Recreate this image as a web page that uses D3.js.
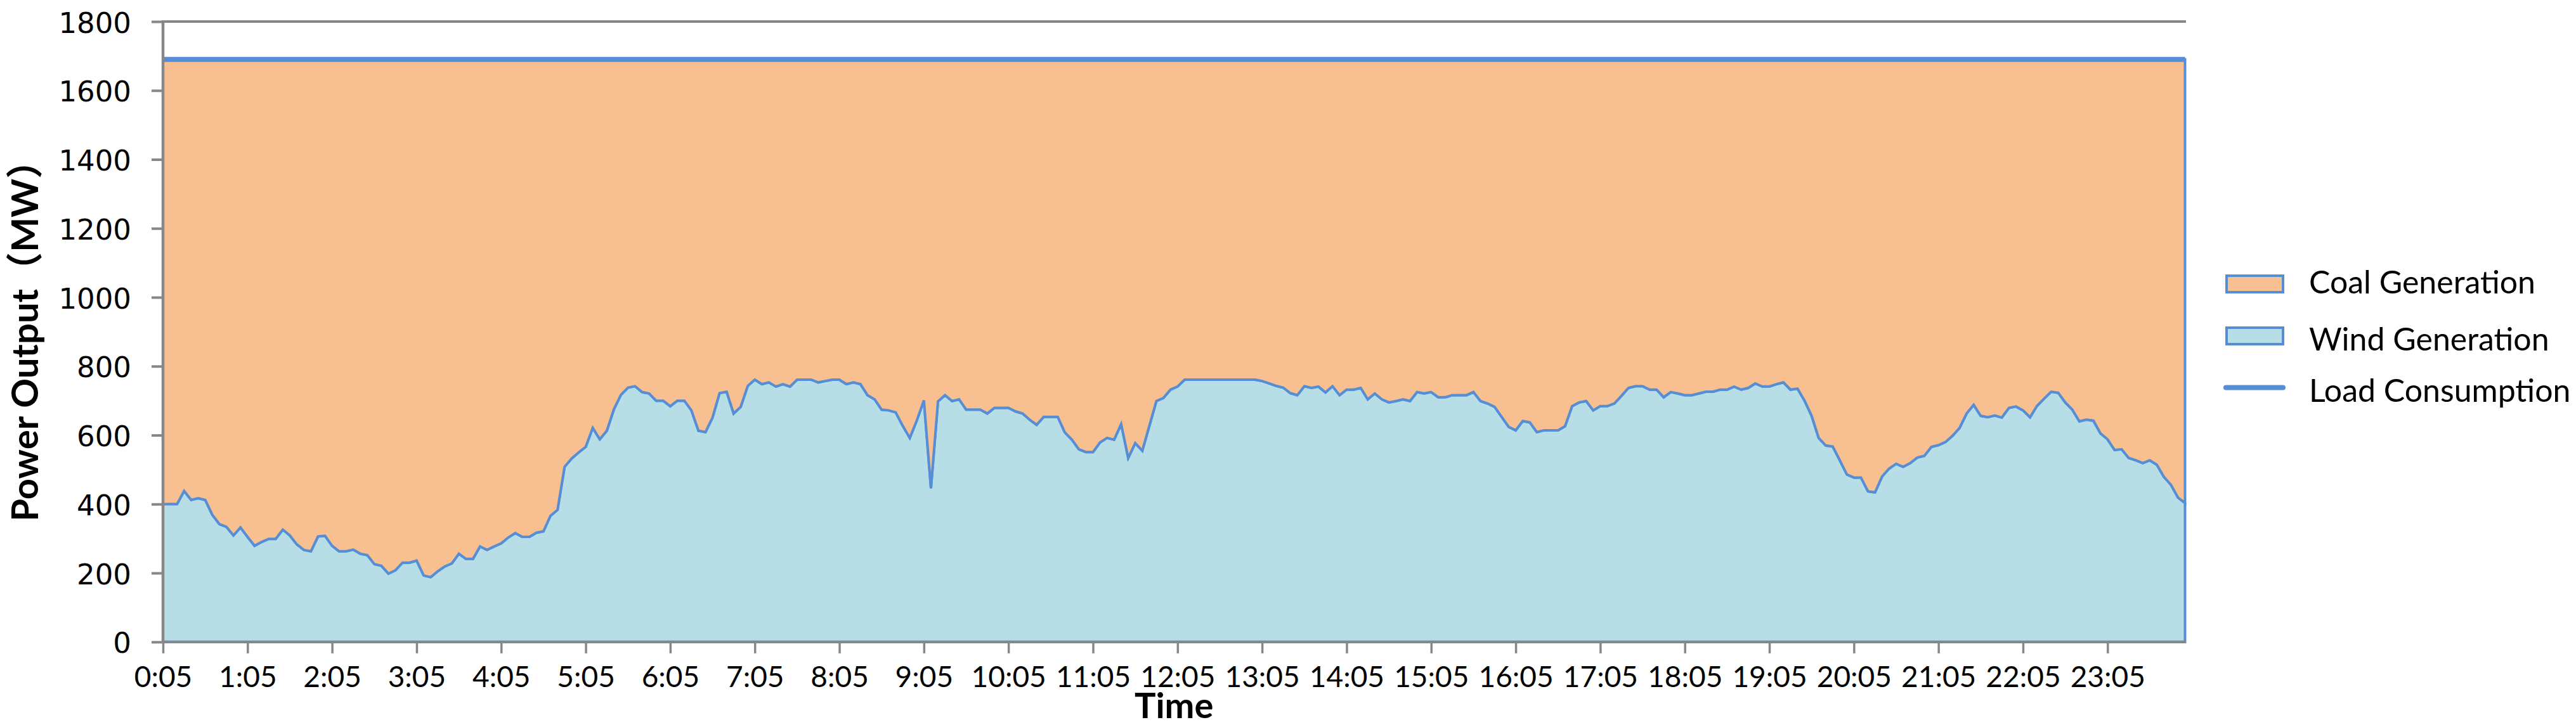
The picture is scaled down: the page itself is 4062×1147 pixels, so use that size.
<!DOCTYPE html>
<html>
<head>
<meta charset="utf-8">
<script src="https://cdn.jsdelivr.net/npm/d3@7/dist/d3.min.js"></script>
<style>
  html, body { margin: 0; padding: 0; background: #ffffff; }
  svg { display: block; }
</style>
</head>
<body>
<svg id="chart" width="4062" height="1147"></svg>
<script>
// ---------------- DATA ----------------
// Wind generation (MW), one value every 5 minutes from 0:05 to 24:00 (12 per row = 1 hour)
const windMW = [
  400,400,400,438,412,417,412,369,342,334,309,332,
  305,279,290,299,299,326,309,283,267,263,306,308,
  279,263,263,268,256,252,226,221,198,208,230,230,
  236,193,188,205,219,228,256,241,241,277,267,277,
  286,303,316,305,305,317,321,366,383,508,532,550,
  566,621,588,613,675,717,738,742,725,721,700,700,
  684,700,700,672,613,609,651,722,726,663,682,743,
  761,748,753,741,748,741,761,761,761,753,757,761,
  761,748,753,748,716,704,674,672,666,627,592,643,
  701,446,698,716,699,704,674,674,674,663,679,679,
  679,669,663,645,630,653,653,653,608,587,559,551,
  551,579,592,587,632,534,577,555,627,699,708,732,
  741,761,761,761,761,761,761,761,761,761,761,761,
  757,750,743,738,722,716,742,737,741,724,742,716,
  732,732,737,704,721,704,695,699,704,699,725,721,
  725,710,710,716,716,716,725,699,692,682,653,624,
  614,641,637,609,614,614,614,626,684,695,699,672,
  684,684,692,714,737,742,742,732,732,710,725,721,
  716,716,721,726,726,732,732,741,732,737,750,741,
  741,748,753,732,735,700,656,592,570,567,527,486,
  477,477,437,434,480,503,517,508,519,535,540,566,
  571,580,598,621,663,688,656,652,657,651,679,683,
  672,652,685,706,726,723,695,674,640,645,642,605,
  588,557,559,534,527,519,527,514,479,456,419,403
];
// Load consumption (MW), flat over the day
const loadMW = 1690;

// Category labels: 5-minute steps
const timeLabels = windMW.map((_, i) => {
  const mins = (i + 1) * 5;
  return Math.floor(mins / 60) + ":" + String(mins % 60).padStart(2, "0");
});
// Labelled x ticks
const xTickLabels = ["0:05","1:05","2:05","3:05","4:05","5:05","6:05","7:05","8:05","9:05","10:05","11:05",
                     "12:05","13:05","14:05","15:05","16:05","17:05","18:05","19:05","20:05","21:05","22:05","23:05"];
const yTicks = [0, 200, 400, 600, 800, 1000, 1200, 1400, 1600, 1800];
const seriesNames = ["Coal Generation", "Wind Generation", "Load Consumption"];
const axisTitles = { x: "Time", y: "Power Output（MW）" };

// ---------------- STYLE ----------------
const C = {
  coal: "#F8C091",
  wind: "#B7DDE7",
  line: "#558ED5",
  axis: "#878787",
  text: "#000000"
};

const rows = timeLabels.map((t, i) => ({
  time: t,
  wind: windMW[i],
  coal: loadMW - windMW[i],
  load: loadMW
}));

const svg = d3.select("#chart");
svg.append("rect").attr("width", 4062).attr("height", 1147).attr("fill", "#fff");

const plot = { left: 257, right: 3445.5, top: 34, bottom: 1012.8 };

const x = d3.scalePoint().domain(timeLabels).range([plot.left, plot.right]).padding(0);
const y = d3.scaleLinear().domain([0, 1800]).range([plot.bottom, plot.top]);

// gridlines
svg.append("g").selectAll("line").data(yTicks).join("line")
  .attr("x1", plot.left).attr("x2", plot.right + 1.5)
  .attr("y1", d => y(d)).attr("y2", d => y(d))
  .attr("stroke", C.axis).attr("stroke-width", 4);

// stacked areas
const stack = d3.stack().keys(["wind", "coal"]);
const stacked = stack(rows);
const area = d3.area()
  .x(d => x(d.data.time))
  .y0(d => y(d[0]))
  .y1(d => y(d[1]));

const fills = { wind: C.wind, coal: C.coal };
svg.append("g").selectAll("path").data(stacked).join("path")
  .attr("d", area)
  .attr("fill", d => fills[d.key])
  .attr("stroke", C.line)
  .attr("stroke-width", 4)
  .attr("stroke-linejoin", "miter");

// load line
const line = d3.line().x(d => x(d.time)).y(d => y(d.load));
svg.append("path").datum(rows)
  .attr("d", line)
  .attr("fill", "none")
  .attr("stroke", C.line)
  .attr("stroke-width", 8);

// y axis
const yAxis = svg.append("g")
  .attr("transform", `translate(${plot.left},0)`)
  .call(d3.axisLeft(y).tickValues(yTicks).tickSize(18).tickPadding(32).tickFormat(d3.format("d")));
yAxis.select(".domain").remove();
yAxis.selectAll(".tick line").attr("stroke", C.axis).attr("stroke-width", 4);
yAxis.selectAll(".tick text")
  .attr("font-family", "'DejaVu Sans', sans-serif")
  .attr("font-size", 45)
  .attr("fill", C.text)
  .attr("dy", "0.38em");
yAxis.append("line")
  .attr("x1", 0).attr("x2", 0)
  .attr("y1", plot.top - 2).attr("y2", plot.bottom + 2)
  .attr("stroke", C.axis).attr("stroke-width", 4.5);

// x axis
const xAxis = svg.append("g")
  .attr("transform", `translate(0,${plot.bottom})`)
  .call(d3.axisBottom(x).tickValues(xTickLabels).tickSize(18).tickPadding(21));
xAxis.select(".domain").remove();
xAxis.selectAll(".tick line").attr("stroke", C.axis).attr("stroke-width", 3.5);
xAxis.selectAll(".tick text")
  .attr("font-family", "Lato, sans-serif")
  .attr("font-size", 46)
  .attr("fill", C.text);
xAxis.append("line")
  .attr("x1", plot.left - 2).attr("x2", plot.right + 1.5)
  .attr("y1", 0).attr("y2", 0)
  .attr("stroke", C.axis).attr("stroke-width", 4);

// axis titles
svg.append("text")
  .attr("x", (plot.left + plot.right) / 2).attr("y", 1133)
  .attr("text-anchor", "middle")
  .attr("font-family", "Lato, sans-serif")
  .attr("font-weight", "bold")
  .attr("font-size", 56)
  .attr("fill", C.text)
  .text(axisTitles.x);

svg.append("text")
  .attr("transform", `translate(60,${(plot.top + plot.bottom) / 2}) rotate(-90)`)
  .attr("text-anchor", "middle")
  .attr("font-family", "Lato, 'Noto Sans CJK SC', sans-serif")
  .attr("font-weight", "bold")
  .attr("font-size", 58)
  .attr("fill", C.text)
  .text(axisTitles.y);

// legend
const legend = svg.append("g");
const lg = [
  { name: seriesNames[0], type: "rect", fill: C.coal, cy: 448, base: 462.7 },
  { name: seriesNames[1], type: "rect", fill: C.wind, cy: 530, base: 553.3 },
  { name: seriesNames[2], type: "line", cy: 611.5, base: 634 }
];
lg.forEach(d => {
  if (d.type === "rect") {
    legend.append("rect")
      .attr("x", 3511).attr("y", d.cy - 13).attr("width", 89).attr("height", 26)
      .attr("fill", d.fill).attr("stroke", C.line).attr("stroke-width", 4);
  } else {
    legend.append("line")
      .attr("x1", 3510).attr("x2", 3600).attr("y1", d.cy).attr("y2", d.cy)
      .attr("stroke", C.line).attr("stroke-width", 8).attr("stroke-linecap", "round");
  }
  legend.append("text")
    .attr("x", 3641).attr("y", d.base)
    .attr("font-family", "Lato, sans-serif")
    .attr("font-size", 50)
    .attr("fill", C.text)
    .text(d.name);
});
</script>
</body>
</html>
